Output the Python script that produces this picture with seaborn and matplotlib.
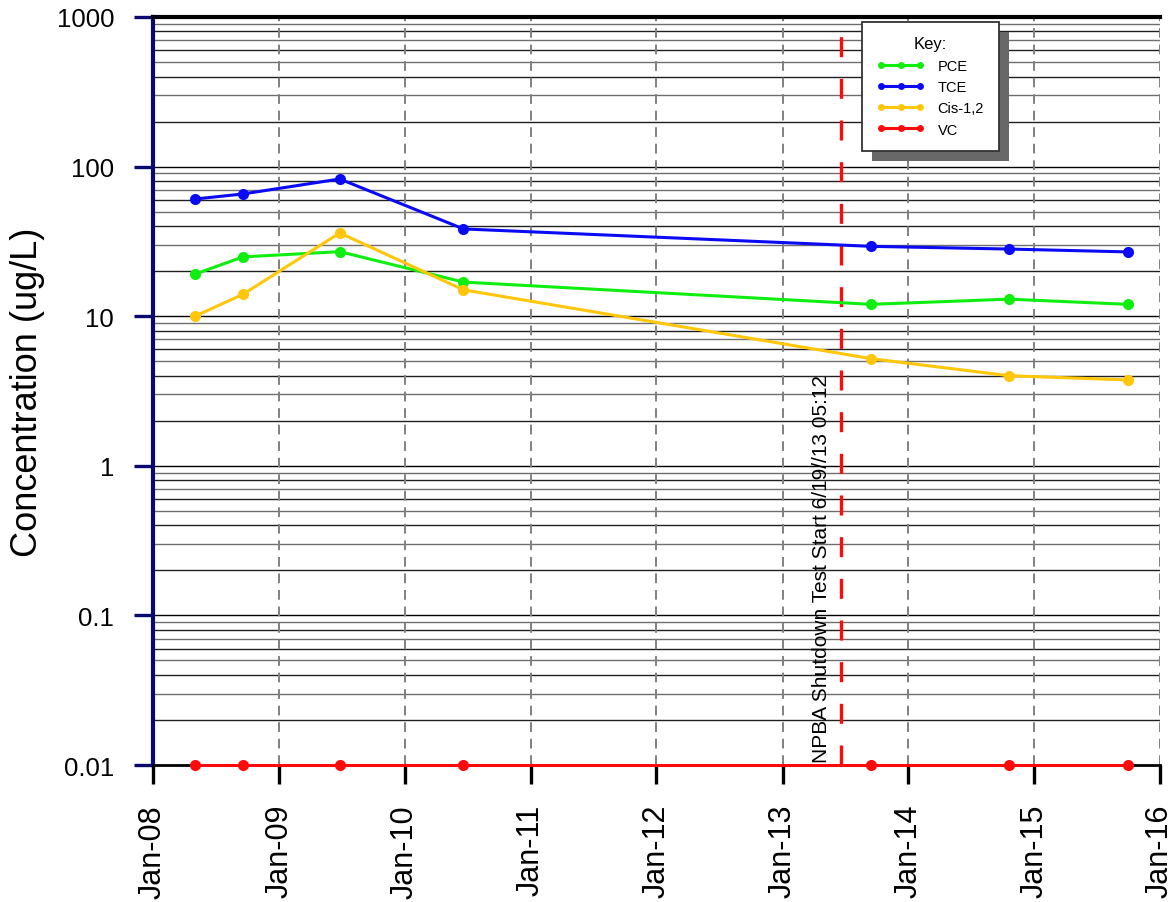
import numpy as np
import pandas as pd
import seaborn as sns
import matplotlib.pyplot as plt
import matplotlib.dates as mdates
from matplotlib.lines import Line2D
from matplotlib.patches import Rectangle
from matplotlib.transforms import IdentityTransform
from matplotlib.ticker import FixedLocator, NullFormatter

# sample dates and concentrations (ug/L)
sample_dates = ["2008-05-02", "2008-09-18", "2009-06-26", "2010-06-20",
                "2013-09-15", "2014-10-20", "2015-09-29"]
pce = [19.1, 24.9, 27.0, 16.9, 12.0, 13.0, 12.0]
tce = [60.7, 65.6, 82.6, 38.3, 29.3, 28.1, 26.9]
cis12 = [10.0, 14.0, 36.0, 15.0, 5.2, 4.0, 3.75]
vc = [0.01, 0.01, 0.01, 0.01, 0.01, 0.01, 0.01]

series_names = ["PCE", "TCE", "Cis-1,2", "VC"]
series_colors = ["#10ee10", "#0a0af5", "#ffc60a", "#ff0a0a"]
shutdown_date = "2013-06-19 05:12"
shutdown_label = "NPBA Shutdown Test Start 6/19//13 05:12"
y_ticks = [0.01, 0.1, 1, 10, 100, 1000]
y_tick_labels = ["0.01", "0.1", "1", "10", "100", "1000"]

sns.set_style("white")
plt.rcParams["font.family"] = ["Liberation Sans", "DejaVu Sans"]
plt.rcParams["text.color"] = "black"
plt.rcParams["axes.labelcolor"] = "black"
plt.rcParams["xtick.labelcolor"] = "black"
plt.rcParams["ytick.labelcolor"] = "black"

df = pd.DataFrame({
    "date": pd.to_datetime(sample_dates * 4),
    "conc": pce + tce + cis12 + vc,
    "analyte": np.repeat(series_names, len(sample_dates)),
})

fig = plt.figure(figsize=(11.75, 9.03), dpi=100)
ax = fig.add_axes([0.1302, 0.1517, 0.8570, 0.8284])

# horizontal grid (decades and in-between lines)
for dec in [0.01, 0.1, 1, 10, 100]:
    for k in range(2, 10):
        ax.axhline(dec * k, color="#6e6e6e" if k % 2 else "#202020", lw=1.0, zorder=0.5)
    if dec > 0.01:
        ax.axhline(dec, color="black", lw=1.0, zorder=0.5)

# vertical dashed year grid
years = pd.date_range("2008-01-01", "2016-01-01", freq="YS")
for yr in years[1:]:
    ax.axvline(yr, color="#808080", lw=1.4, ls=(0, (5, 3.5)), zorder=0.6)

sns.lineplot(data=df, x="date", y="conc", hue="analyte", hue_order=series_names,
             palette=series_colors, marker="o", markersize=8, markeredgewidth=0,
             linewidth=2.2, legend=False, ax=ax, zorder=3, clip_on=False)

ax.set_yscale("log")
ax.set_ylim(0.01, 1000)
ax.set_xlim(years[0], years[-1])

ax.axvline(pd.Timestamp(shutdown_date), ymax=0.978, color="#ff0a0a", lw=2.4,
           ls=(0, (6, 6.5)), zorder=2.5)
ax.annotate(shutdown_label, xy=(pd.Timestamp(shutdown_date), 0.01), xytext=(-7, 2),
            textcoords="offset points", rotation=90, ha="right", va="bottom",
            fontsize=15, color="black")

# axes styling
ax.yaxis.set_major_locator(FixedLocator(y_ticks))
ax.set_yticklabels(y_tick_labels)
ax.yaxis.set_minor_locator(FixedLocator([]))
ax.yaxis.set_minor_formatter(NullFormatter())
ax.xaxis.set_major_locator(mdates.YearLocator())
ax.xaxis.set_major_formatter(mdates.DateFormatter("%b-%y"))
ax.tick_params(axis="y", direction="out", length=14, width=2.4, color="#0a0a6e",
               labelsize=18.5, pad=14, left=True, labelcolor="black")
ax.tick_params(axis="x", direction="out", length=14, width=2.4, color="black",
               labelsize=22, pad=14, labelrotation=90, bottom=True, labelcolor="black")
for lab in ax.get_xticklabels():
    lab.set_ha("center")

ax.spines["left"].set_color("#0a0a6e")
ax.spines["left"].set_linewidth(3)
ax.spines["top"].set_color("black")
ax.spines["top"].set_linewidth(3)
ax.spines["bottom"].set_color("black")
ax.spines["bottom"].set_linewidth(2)
ax.spines["right"].set_visible(False)

ax.set_xlabel("")
ax.set_ylabel("Concentration (ug/L)", fontsize=26, labelpad=8, color="black")

handles = [Line2D([], [], color=c, lw=2.2, marker="o", markersize=5, markeredgewidth=0)
           for c in series_colors]
leg = ax.legend(handles, series_names, title="Key:", loc="upper left",
                bbox_to_anchor=(0.704, 0.9935), borderaxespad=0, numpoints=3,
                fontsize=10.5, title_fontsize=12, handlelength=3.3, handletextpad=0.9,
                borderpad=1.0, labelspacing=0.5, fancybox=False, framealpha=1,
                edgecolor="#333333")
leg.get_frame().set_linewidth(1.3)
leg.set_zorder(6)
for t in leg.get_texts():
    t.set_color("black")
leg.get_title().set_color("black")

# drop shadow behind the key box
fig.canvas.draw()
bb = leg.get_window_extent()
shadow = Rectangle((bb.x0 + 10, bb.y0 - 10), bb.width, bb.height,
                   transform=IdentityTransform(), facecolor="#686868",
                   edgecolor="none", zorder=5.9)
ax.add_artist(shadow)

fig.savefig("out.png", dpi=100)
